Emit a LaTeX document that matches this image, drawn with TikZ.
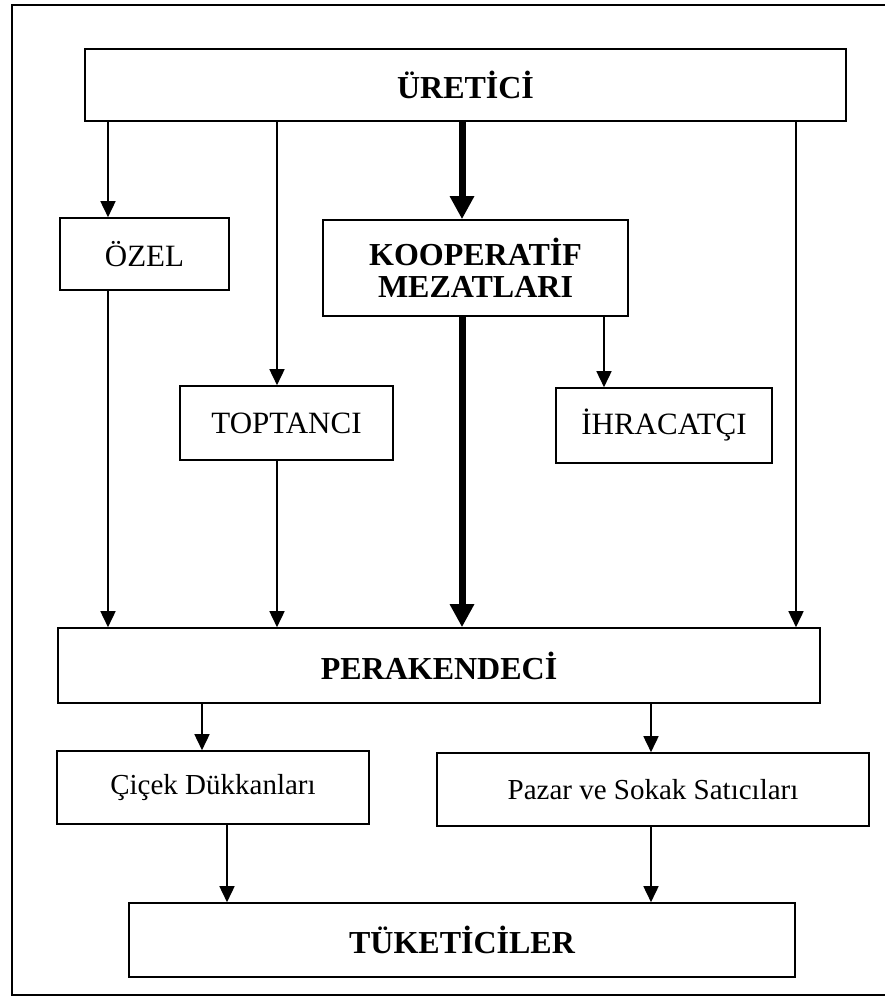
\documentclass[tikz,border=0pt]{standalone}
\usepackage{fontspec}
\setmainfont{Liberation Serif}
\usetikzlibrary{arrows.meta}
\begin{document}
\begin{tikzpicture}[x=1pt,y=1pt,
  box/.style={draw,line width=1.6pt,rectangle,inner sep=0pt,align=center},
  bigtxt/.style={font=\fontsize{32}{32}\selectfont\bfseries},
  regtxt/.style={font=\fontsize{31}{33}\selectfont},
  smalltxt/.style={font=\fontsize{29}{31}\selectfont},
  arr/.style={line width=1.6pt,-{Triangle[length=16pt,width=15pt]}},
  thickarr/.style={line width=7pt,-{Triangle[length=23pt,width=23pt]}},
  frame/.style={line width=2pt}]
\useasboundingbox (0,0) rectangle (885,-1001);
\draw[frame] (885,-5) -- (12,-5) -- (12,-995) -- (885,-995);

\node[box,bigtxt,minimum width=761pt,minimum height=72pt] (ure) at (465.5,-85) {ÜRETİCİ};
\node[box,regtxt,minimum width=169pt,minimum height=72pt] (ozel) at (144.5,-254) {ÖZEL};
\node[box,bigtxt,minimum width=305pt,minimum height=96pt] (koop) at (475.5,-268) {KOOPERATİF\\MEZATLARI};
\node[box,regtxt,minimum width=213pt,minimum height=74pt] (topt) at (286.5,-423) {TOPTANCI};
\node[box,regtxt,minimum width=216pt,minimum height=75pt] (ihr) at (664,-425.5) {İHRACATÇI};
\node[box,bigtxt,minimum width=762pt,minimum height=75pt] (per) at (439,-665.5) {PERAKENDECİ};
\node[box,smalltxt,minimum width=312pt,minimum height=73pt] (cicek) at (213,-787.5) {Çiçek Dükkanları};
\node[box,smalltxt,minimum width=432pt,minimum height=73pt] (pazar) at (653,-789.5) {Pazar ve Sokak Satıcıları};
\node[box,bigtxt,minimum width=666pt,minimum height=74pt] (tuk) at (462,-940) {TÜKETİCİLER};

\coordinate (xa) at (108,0);
\coordinate (xb) at (277,0);
\coordinate (xc) at (462,0);
\coordinate (xd) at (604,0);
\coordinate (xe) at (796,0);
\coordinate (xf) at (202,0);
\coordinate (xg) at (651,0);
\coordinate (xh) at (227,0);

\draw[arr] (ure.south -| xa) -- (ozel.north -| xa);
\draw[arr] (ozel.south -| xa) -- (per.north -| xa);
\draw[arr] (ure.south -| xb) -- (topt.north -| xb);
\draw[arr] (topt.south -| xb) -- (per.north -| xb);
\draw[thickarr] (ure.south -| xc) -- (koop.north -| xc);
\draw[thickarr] (koop.south -| xc) -- (per.north -| xc);
\draw[arr] (koop.south -| xd) -- (ihr.north -| xd);
\draw[arr] (ure.south -| xe) -- (per.north -| xe);
\draw[arr] (per.south -| xf) -- (cicek.north -| xf);
\draw[arr] (per.south -| xg) -- (pazar.north -| xg);
\draw[arr] (cicek.south -| xh) -- (tuk.north -| xh);
\draw[arr] (pazar.south -| xg) -- (tuk.north -| xg);
\end{tikzpicture}
\end{document}
